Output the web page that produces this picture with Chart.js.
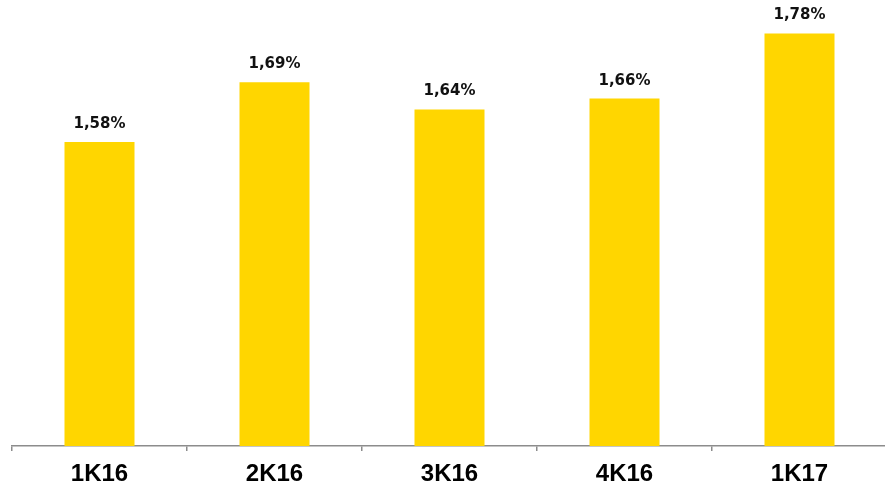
<!DOCTYPE html>
<html>
<head>
<meta charset="utf-8">
<script src="https://cdn.jsdelivr.net/npm/chart.js@4.4.0/dist/chart.umd.min.js"></script>
<style>
  html, body { margin: 0; padding: 0; background: #fff; overflow: hidden; }
  #wrap { width: 887px; height: 487px; position: relative; }
</style>
</head>
<body>
<div id="wrap"><canvas id="myChart"></canvas></div>
<script>
const quarters = ["1K16", "2K16", "3K16", "4K16", "1K17"];
const shareValues = [1.58, 1.69, 1.64, 1.66, 1.78];
const valueLabels = ["1,58%", "1,69%", "1,64%", "1,66%", "1,78%"];

// draws the value above each bar
const barValuePlugin = {
    id: "barValues",
    afterDatasetsDraw(chart) {
        const ctx = chart.ctx;
        const meta = chart.getDatasetMeta(0);
        ctx.save();
        ctx.font = "bold 15px 'DejaVu Sans'";
        ctx.fillStyle = "#111";
        ctx.textAlign = "center";
        ctx.textBaseline = "alphabetic";
        meta.data.forEach((bar, i) => {
            ctx.fillText(valueLabels[i], bar.x, bar.y - 14);
        });
        ctx.restore();
    }
};

const ctx = document.getElementById("myChart").getContext("2d");
new Chart(ctx, {
    type: "bar",
    data: {
        labels: quarters,
        datasets: [{
            data: shareValues,
            backgroundColor: "#FFD600",
            borderWidth: 0,
            categoryPercentage: 0.4,
            barPercentage: 1.0,
        }],
    },
    options: {
        responsive: true,
        maintainAspectRatio: false,
        animation: false,
        layout: { padding: { left: 12, right: 0, top: 0, bottom: 0 } },
        plugins: {
            legend: { display: false },
            tooltip: { enabled: false },
        },
        scales: {
            x: {
                offset: true,
                border: { display: true, color: "#8c8c8c", width: 1.5 },
                grid: {
                    offset: true,
                    drawOnChartArea: false,
                    drawTicks: true,
                    tickLength: 5,
                    color: "#8c8c8c",
                    lineWidth: 1.5,
                },
                ticks: {
                    color: "#000",
                    padding: 9,
                    font: { family: "Arial, 'Liberation Sans'", size: 24, weight: "bold" },
                },
                afterFit(scale) { scale.height = 41; },
            },
            y: {
                display: false,
                min: 1.02,
                max: 1.8416,
            },
        },
    },
    plugins: [barValuePlugin],
});
</script>
</body>
</html>
